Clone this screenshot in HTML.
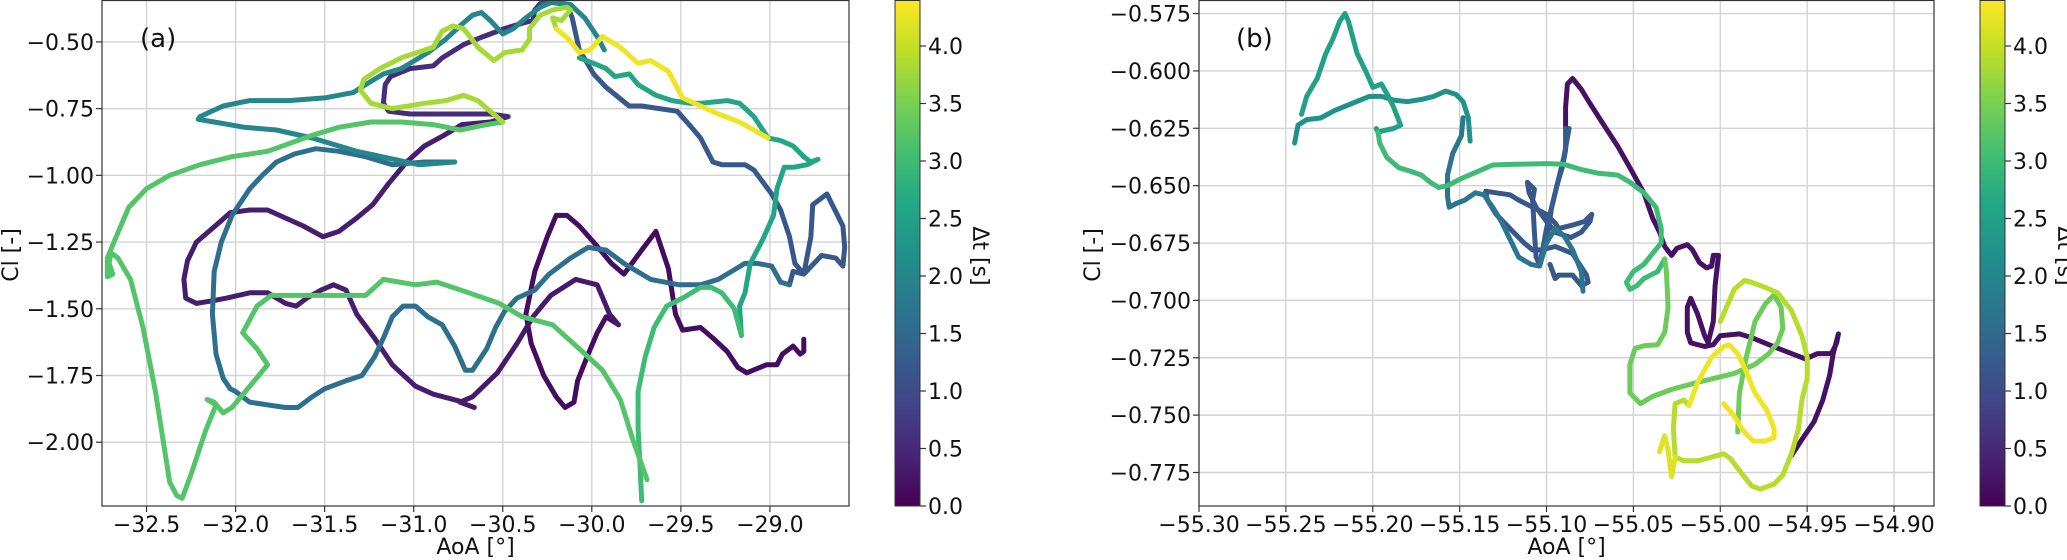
<!DOCTYPE html>
<html><head><meta charset="utf-8">
<style>
html,body{margin:0;padding:0;background:#fff;}
svg{display:block;font-family:"DejaVu Sans","Liberation Sans",sans-serif;}
</style></head>
<body>
<svg id="fig" width="2067" height="560" viewBox="0 0 2067 560" xmlns="http://www.w3.org/2000/svg">
<defs>
<linearGradient id="viridis" x1="0" y1="1" x2="0" y2="0">
<stop offset="0" stop-color="#440154"/><stop offset="0.1" stop-color="#482475"/>
<stop offset="0.2" stop-color="#414487"/><stop offset="0.3" stop-color="#355f8d"/>
<stop offset="0.4" stop-color="#2a788e"/><stop offset="0.5" stop-color="#21918c"/>
<stop offset="0.6" stop-color="#22a884"/><stop offset="0.7" stop-color="#44bf70"/>
<stop offset="0.8" stop-color="#7ad151"/><stop offset="0.9" stop-color="#bddf26"/>
<stop offset="1" stop-color="#fde725"/>
</linearGradient>
</defs>
<g id="layer"></g>
</svg>
<script>
// ---------- data: panel (a) ----------
const aTimes = [0.15,0.3,0.35,0.55,1.2,1.6,2.0,2.6,3.0,3.2,3.8,4.3];
const aAoa = [
[-28.81,-28.81,-28.83,-28.87,-28.93,-28.96,-29.02,-29.13,-29.18,-29.24,-29.32,-29.39,-29.49,-29.53,-29.57,-29.64,-29.72,-29.82,-29.89,-29.99,-30.07,-30.14,-30.20,-30.25,-30.32,-30.37,-30.34,-30.27,-30.20,-30.15,-30.10,-30.08,-30.02,-29.97,-29.92,-29.85],
[-29.85,-29.90,-29.97,-30.09,-30.23,-30.33,-30.42,-30.53,-30.67,-30.74,-30.66],
[-30.72,-30.89,-30.99,-31.12,-31.22,-31.32,-31.38,-31.45,-31.52,-31.60,-31.66,-31.72,-31.82,-31.92,-32.05,-32.13,-32.22,-32.28,-32.29,-32.27,-32.22,-32.15,-32.08,-32.03,-31.92,-31.82,-31.62,-31.51,-31.42,-31.32,-31.23,-31.14,-31.04,-30.94,-30.83,-30.73,-30.57,-30.47],
[-30.47,-30.57,-30.82,-31.02,-31.14,-31.17,-31.16,-31.13,-31.02,-30.89,-30.84,-30.72,-30.61,-30.49,-30.39,-30.33,-30.32,-30.28],
[-30.28,-30.25,-30.14,-30.11,-30.07,-29.99,-29.92,-29.79,-29.72,-29.62,-29.52,-29.44,-29.39,-29.32,-29.27,-29.14,-29.09,-28.99,-28.94,-28.89,-28.86,-28.81,-28.77,-28.76,-28.68,-28.59,-28.58,-28.59,-28.63,-28.71,-28.81,-28.87,-28.89],
[-28.89,-28.94,-28.99,-29.07,-29.14,-29.29,-29.39,-29.51,-29.67,-29.82,-29.92,-30.02,-30.12,-30.24,-30.32,-30.42,-30.49,-30.54,-30.59,-30.67,-30.71,-30.77,-30.84,-30.92,-30.99,-31.06,-31.12,-31.17,-31.22,-31.29,-31.38,-31.50,-31.57,-31.65,-31.72,-31.82,-31.92,-32.00,-32.03,-32.07,-32.11,-32.13,-32.12,-32.08,-32.02,-31.92,-31.85,-31.77,-31.67,-31.55,-31.42,-31.27,-31.12,-30.94,-30.77],
[-30.77,-30.97,-31.32,-31.57,-31.77,-31.95,-32.12,-32.21,-32.20,-32.07,-31.92,-31.70,-31.50,-31.34,-31.27,-31.17,-31.07,-30.92,-30.82,-30.74,-30.67,-30.62,-30.57,-30.50,-30.44,-30.37,-30.29,-30.22,-30.12,-30.04,-29.97,-29.93],
[-30.07,-29.99,-29.92,-29.87,-29.79,-29.74,-29.64,-29.55,-29.45,-29.39,-29.24,-29.17,-29.09,-29.01,-28.94,-28.87,-28.81,-28.77,-28.73,-28.79,-28.87,-28.92,-28.96,-28.98,-29.04,-29.11,-29.14,-29.17,-29.16],
[-29.16,-29.20,-29.27,-29.33,-29.39,-29.49,-29.58,-29.65,-29.70,-29.74,-29.74,-29.73,-29.72],
[-29.69,-29.77,-29.84,-29.94,-30.07,-30.22,-30.39,-30.52,-30.69,-30.87,-30.99,-31.17,-31.27,-31.42,-31.62,-31.80,-31.88,-31.96,-31.88,-31.82,-31.92,-32.02,-32.07,-32.12,-32.16,-32.11,-32.17,-32.25,-32.30,-32.33,-32.37,-32.45,-32.52,-32.59,-32.66,-32.70,-32.71,-32.69,-32.72,-32.72,-32.67,-32.60,-32.50,-32.37,-32.20,-32.02,-31.82,-31.57,-31.42,-31.24,-31.07,-30.89,-30.74,-30.59,-30.50],
[-30.50,-30.57,-30.64,-30.72,-30.82,-30.94,-31.12,-31.24,-31.30,-31.28,-31.19,-31.07,-30.89,-30.84,-30.78,-30.72,-30.64,-30.55,-30.49,-30.39,-30.35,-30.35,-30.29,-30.22,-30.14,-30.12,-30.17,-30.22,-30.20],
[-30.20,-30.13,-30.07,-30.01,-29.94,-29.84,-29.74,-29.67,-29.57,-29.49,-29.39,-29.29,-29.17,-29.01]
];
const aCl = [
[-1.614,-1.66,-1.67,-1.64,-1.67,-1.71,-1.71,-1.74,-1.72,-1.66,-1.61,-1.57,-1.58,-1.52,-1.35,-1.21,-1.28,-1.37,-1.33,-1.25,-1.19,-1.15,-1.15,-1.23,-1.36,-1.52,-1.63,-1.75,-1.83,-1.87,-1.85,-1.77,-1.67,-1.59,-1.53,-1.56],
[-1.56,-1.52,-1.41,-1.39,-1.45,-1.53,-1.63,-1.74,-1.83,-1.85,-1.87],
[-1.85,-1.82,-1.79,-1.71,-1.61,-1.52,-1.43,-1.41,-1.43,-1.46,-1.49,-1.48,-1.44,-1.44,-1.46,-1.47,-1.48,-1.46,-1.39,-1.32,-1.25,-1.21,-1.17,-1.14,-1.13,-1.13,-1.19,-1.23,-1.21,-1.16,-1.11,-1.03,-0.95,-0.89,-0.85,-0.81,-0.80,-0.78],
[-0.78,-0.77,-0.77,-0.77,-0.76,-0.73,-0.66,-0.63,-0.60,-0.59,-0.56,-0.51,-0.48,-0.45,-0.43,-0.42,-0.38,-0.35],
[-0.35,-0.35,-0.36,-0.41,-0.53,-0.62,-0.67,-0.74,-0.74,-0.75,-0.76,-0.82,-0.86,-0.95,-0.96,-0.96,-0.98,-1.07,-1.13,-1.23,-1.33,-1.37,-1.23,-1.11,-1.07,-1.19,-1.27,-1.34,-1.31,-1.30,-1.37,-1.36,-1.41],
[-1.41,-1.40,-1.34,-1.33,-1.33,-1.39,-1.41,-1.41,-1.39,-1.33,-1.28,-1.27,-1.31,-1.37,-1.43,-1.46,-1.51,-1.57,-1.65,-1.73,-1.73,-1.64,-1.56,-1.53,-1.49,-1.49,-1.53,-1.61,-1.68,-1.75,-1.77,-1.80,-1.83,-1.87,-1.87,-1.86,-1.85,-1.81,-1.80,-1.76,-1.67,-1.52,-1.36,-1.25,-1.15,-1.05,-1.00,-0.95,-0.92,-0.90,-0.91,-0.93,-0.96,-0.95,-0.95],
[-0.95,-0.96,-0.91,-0.86,-0.83,-0.82,-0.80,-0.79,-0.78,-0.74,-0.72,-0.72,-0.71,-0.69,-0.66,-0.62,-0.60,-0.54,-0.49,-0.44,-0.40,-0.39,-0.42,-0.47,-0.45,-0.41,-0.37,-0.35,-0.36,-0.41,-0.48,-0.53],
[-0.56,-0.58,-0.60,-0.63,-0.62,-0.66,-0.70,-0.72,-0.73,-0.73,-0.72,-0.73,-0.78,-0.86,-0.87,-0.89,-0.93,-0.95,-0.94,-0.96,-0.97,-0.97,-1.05,-1.15,-1.24,-1.33,-1.44,-1.49,-1.60],
[-1.60,-1.50,-1.44,-1.42,-1.42,-1.46,-1.49,-1.57,-1.68,-1.81,-1.95,-2.08,-2.22],
[-2.14,-1.99,-1.84,-1.73,-1.65,-1.56,-1.53,-1.48,-1.44,-1.40,-1.41,-1.39,-1.45,-1.45,-1.45,-1.45,-1.49,-1.59,-1.65,-1.71,-1.79,-1.87,-1.89,-1.85,-1.84,-1.86,-1.96,-2.12,-2.21,-2.20,-2.15,-1.81,-1.57,-1.39,-1.31,-1.29,-1.33,-1.37,-1.38,-1.31,-1.23,-1.12,-1.05,-1.00,-0.96,-0.93,-0.91,-0.85,-0.82,-0.80,-0.80,-0.81,-0.83,-0.81,-0.80],
[-0.80,-0.76,-0.72,-0.70,-0.72,-0.73,-0.75,-0.73,-0.68,-0.64,-0.60,-0.56,-0.52,-0.46,-0.44,-0.45,-0.52,-0.57,-0.54,-0.53,-0.49,-0.45,-0.40,-0.38,-0.37,-0.38,-0.42,-0.41,-0.45],
[-0.45,-0.49,-0.54,-0.53,-0.48,-0.52,-0.58,-0.57,-0.61,-0.71,-0.74,-0.77,-0.80,-0.86]
];
// ---------- data: panel (b) ----------
const bTimes = [0.2,1.2,1.3,1.7,2.2,2.5,3.0,3.4,3.9,4.3,4.2];
const bAoa = [
[-54.959,-54.953,-54.946,-54.941,-54.937,-54.935,-54.932,-54.933,-54.936,-54.944,-54.951,-54.959,-54.972,-54.982,-54.989,-55.000,-55.004,-55.009,-55.017,-55.019,-55.019,-55.017,-55.013,-55.009,-55.007,-55.004,-55.003,-55.001,-55.004,-55.005,-55.008,-55.012,-55.016,-55.019,-55.025,-55.028,-55.032,-55.035,-55.039,-55.044,-55.052,-55.059,-55.067,-55.075,-55.080,-55.085,-55.088,-55.089,-55.089],
[-55.089,-55.089,-55.091,-55.094,-55.097,-55.099,-55.102,-55.104,-55.106,-55.107,-55.108,-55.107,-55.111,-55.110,-55.106,-55.100,-55.095,-55.086,-55.080,-55.075,-55.074,-55.078,-55.085,-55.093,-55.095,-55.100,-55.108,-55.116,-55.121,-55.129,-55.135,-55.134,-55.129,-55.121,-55.113,-55.108,-55.103,-55.095,-55.090,-55.085,-55.081,-55.077,-55.076,-55.080,-55.085,-55.093,-55.095,-55.098],
[-55.104,-55.100,-55.095,-55.090,-55.087],
[-55.079,-55.080,-55.085,-55.090,-55.095,-55.100,-55.104,-55.109,-55.116,-55.121,-55.126,-55.131,-55.136,-55.141,-55.147,-55.152,-55.156,-55.157,-55.157,-55.154,-55.149,-55.148],
[-55.144,-55.145,-55.148,-55.152,-55.158,-55.165,-55.172,-55.180,-55.188,-55.195,-55.202,-55.212,-55.222,-55.230,-55.238,-55.243,-55.245],
[-55.241,-55.238,-55.232,-55.227,-55.223,-55.219,-55.216,-55.214,-55.209,-55.203,-55.200,-55.195,-55.191,-55.188,-55.184,-55.188,-55.193,-55.197,-55.198],
[-55.197,-55.196,-55.192,-55.185,-55.178,-55.172,-55.167,-55.162,-55.157,-55.149,-55.142,-55.131,-55.118,-55.100,-55.090,-55.080,-55.070,-55.059,-55.052,-55.044,-55.037,-55.034,-55.034,-55.039,-55.044,-55.050,-55.054,-55.052,-55.048,-55.044,-55.036,-55.032],
[-55.032,-55.031,-55.030,-55.032,-55.036,-55.044,-55.049,-55.052,-55.052,-55.046,-55.039,-55.028,-55.013,-54.992,-54.980,-54.972,-54.967,-54.964,-54.965,-54.969,-54.974,-54.980,-54.985,-54.989,-54.990],
[-55.000,-54.992,-54.986,-54.982,-54.974,-54.967,-54.959,-54.953,-54.950,-54.950,-54.953,-54.955,-54.959,-54.964,-54.969,-54.977,-54.982,-54.987,-54.994,-54.998,-55.005,-55.013,-55.021,-55.026,-55.027,-55.026,-55.021,-55.018],
[-55.018,-55.013,-55.005,-54.998,-54.995,-54.990,-54.985,-54.980,-54.973,-54.969,-54.969,-54.974,-54.981,-54.987,-54.992,-54.998],
[-55.035,-55.032,-55.030,-55.028,-55.026]
];
const bCl = [
[-0.7676,-0.7606,-0.7528,-0.7434,-0.7325,-0.7232,-0.7146,-0.7185,-0.7232,-0.7232,-0.7255,-0.7232,-0.7193,-0.7162,-0.7146,-0.7154,-0.7193,-0.7201,-0.7185,-0.7139,-0.7030,-0.6991,-0.7061,-0.7154,-0.7185,-0.7092,-0.6936,-0.6804,-0.6804,-0.6851,-0.6858,-0.6835,-0.6780,-0.6757,-0.6773,-0.6804,-0.6765,-0.6703,-0.6640,-0.6531,-0.6422,-0.6329,-0.6236,-0.6142,-0.6080,-0.6033,-0.6057,-0.6158,-0.6251],
[-0.6251,-0.6345,-0.6422,-0.6500,-0.6594,-0.6687,-0.6780,-0.6843,-0.6812,-0.6703,-0.6563,-0.6516,-0.6485,-0.6531,-0.6594,-0.6656,-0.6703,-0.6726,-0.6703,-0.6656,-0.6625,-0.6656,-0.6672,-0.6687,-0.6663,-0.6625,-0.6594,-0.6563,-0.6540,-0.6531,-0.6524,-0.6563,-0.6625,-0.6687,-0.6749,-0.6780,-0.6780,-0.6765,-0.6780,-0.6796,-0.6843,-0.6890,-0.6921,-0.6936,-0.6890,-0.6890,-0.6905,-0.6843],
[-0.6850,-0.6687,-0.6531,-0.6376,-0.6251],
[-0.6960,-0.6874,-0.6780,-0.6718,-0.6687,-0.6749,-0.6850,-0.6843,-0.6812,-0.6734,-0.6656,-0.6594,-0.6540,-0.6531,-0.6563,-0.6578,-0.6594,-0.6547,-0.6454,-0.6360,-0.6282,-0.6204],
[-0.6306,-0.6204,-0.6134,-0.6103,-0.6088,-0.6111,-0.6124,-0.6134,-0.6127,-0.6111,-0.6111,-0.6142,-0.6173,-0.6205,-0.6212,-0.6236,-0.6314],
[-0.6189,-0.6111,-0.6033,-0.5924,-0.5862,-0.5784,-0.5750,-0.5784,-0.5924,-0.6018,-0.6072,-0.6057,-0.6111,-0.6158,-0.6236,-0.6251,-0.6259,-0.6267,-0.6251],
[-0.6267,-0.6314,-0.6376,-0.6422,-0.6438,-0.6454,-0.6485,-0.6508,-0.6500,-0.6469,-0.6446,-0.6410,-0.6407,-0.6404,-0.6407,-0.6430,-0.6446,-0.6454,-0.6485,-0.6531,-0.6594,-0.6687,-0.6749,-0.6796,-0.6843,-0.6874,-0.6921,-0.6952,-0.6936,-0.6905,-0.6874,-0.6819],
[-0.6819,-0.6874,-0.7030,-0.7139,-0.7193,-0.7198,-0.7209,-0.7279,-0.7403,-0.7450,-0.7419,-0.7388,-0.7357,-0.7318,-0.7279,-0.7232,-0.7185,-0.7123,-0.7030,-0.6975,-0.7014,-0.7092,-0.7247,-0.7403,-0.7574],
[-0.7092,-0.6952,-0.6913,-0.6921,-0.6944,-0.6967,-0.7045,-0.7154,-0.7248,-0.7341,-0.7434,-0.7559,-0.7668,-0.7761,-0.7800,-0.7823,-0.7808,-0.7761,-0.7691,-0.7668,-0.7683,-0.7699,-0.7699,-0.7683,-0.7559,-0.7450,-0.7434,-0.7458],
[-0.7458,-0.7357,-0.7248,-0.7201,-0.7193,-0.7232,-0.7310,-0.7403,-0.7481,-0.7559,-0.7598,-0.7613,-0.7613,-0.7567,-0.7504,-0.7450],
[-0.7660,-0.7590,-0.7652,-0.7769,-0.7683]
];
const aXTicks = [-32.5,-32.0,-31.5,-31.0,-30.5,-30.0,-29.5,-29.0];
const aYTicks = [-0.50,-0.75,-1.00,-1.25,-1.50,-1.75,-2.00];
const bXTicks = [-55.30,-55.25,-55.20,-55.15,-55.10,-55.05,-55.00,-54.95,-54.90];
const bYTicks = [-0.575,-0.600,-0.625,-0.650,-0.675,-0.700,-0.725,-0.750,-0.775];
const cbTicks = [0.0,0.5,1.0,1.5,2.0,2.5,3.0,3.5,4.0];
const tMax = 4.4;

const NS = "http://www.w3.org/2000/svg";
const root = document.getElementById('layer');
function mk(tag, attrs, parent){ const e=document.createElementNS(NS,tag); for(const k in attrs) e.setAttribute(k,attrs[k]); (parent||root).appendChild(e); return e; }
const VIR = [[68,1,84],[72,36,117],[65,68,135],[53,95,141],[42,120,142],[33,145,140],[34,168,132],[68,191,112],[122,209,81],[189,223,38],[253,231,37]];
function viridis(f){ f=Math.max(0,Math.min(1,f))*10; const i=Math.min(9,Math.floor(f)), r=f-i; const a=VIR[i], b=VIR[i+1]; return `rgb(${a.map((v,k)=>Math.round(v+(b[k]-v)*r)).join(',')})`; }
const minus = s => s.replace('-', '\u2212');

function panel(cfg){
  const {L,R,T,B,xmin,xmax,ymin,ymax,xt,yt,xdec,ydec,aoa,cl,times,name,label,labX,cbX} = cfg;
  const X = v => L + (v - xmin)/(xmax - xmin)*(R - L);
  const Y = v => B - (v - ymin)/(ymax - ymin)*(B - T);
  const g = mk('g', {});
  
  
  const clipId = name + '-clip';
  const cp = mk('clipPath', {id: clipId}, g); mk('rect', {x:L, y:T, width:R-L, height:B-T}, cp);
  xt.forEach(v => {
    const gl = mk('line', {x1:X(v), x2:X(v), y1:T, y2:B, stroke:'#d3d3d3', 'stroke-width':1.4}, g);
    
    
    mk('line', {x1:X(v), x2:X(v), y1:B, y2:B+6, stroke:'#333', 'stroke-width':1.2}, g);
    const t = mk('text', {x:X(v), y:B+26, 'text-anchor':'middle', 'font-size':22, fill:'#111'}, g);
    t.textContent = minus(v.toFixed(xdec));
    
    
  });
  yt.forEach(v => {
    const gl = mk('line', {x1:L, x2:R, y1:Y(v), y2:Y(v), stroke:'#d3d3d3', 'stroke-width':1.4}, g);
    
    
    mk('line', {x1:L-6, x2:L, y1:Y(v), y2:Y(v), stroke:'#333', 'stroke-width':1.2}, g);
    const t = mk('text', {x:L-8, y:Y(v)+8, 'text-anchor':'end', 'font-size':22, fill:'#111'}, g);
    t.textContent = minus(v.toFixed(ydec));
    
    
  });
  const lines = mk('g', {'clip-path':`url(#${clipId})`, fill:'none', 'stroke-width':5, 'stroke-linecap':'round', 'stroke-linejoin':'round'}, g);
  aoa.forEach((xs, i) => {
    const col = viridis(times[i]/tMax);
    const d = xs.map((x, j) => (j ? 'L' : 'M') + X(x).toFixed(1) + ',' + Y(cl[i][j]).toFixed(1)).join(' ');
    const p = mk('path', {d, stroke: col}, lines);
    
    
  });
  const fr = mk('rect', {x:L, y:T+0.5, width:R-L, height:B-T-0.5, fill:'none', stroke:'#333', 'stroke-width':1.2}, g);
  
  
  const pl = mk('text', {x:labX, y:47, 'font-size':26, fill:'#111'}, g);
  pl.textContent = label;
  
  
  const xl = mk('text', {x:(L+R)/2, y:554, 'text-anchor':'middle', 'font-size':22, fill:'#111'}, g);
  xl.textContent = 'AoA [°]';
  
  
  const yx = cfg.ylabX;
  const yl = mk('text', {x:yx, y:255, 'text-anchor':'middle', 'font-size':22, fill:'#111', transform:`rotate(-90 ${yx} 255)`}, g);
  yl.textContent = 'Cl [-]';
  
  
  const cb = mk('g', {}, g);
  
  
  mk('rect', {x:cbX, y:T+0.5, width:25, height:B-T-0.5, fill:'url(#viridis)', stroke:'#333', 'stroke-width':1}, cb);
  const CY = v => B - v/tMax*(B - T);
  cbTicks.forEach(v => {
    mk('line', {x1:cbX+25, x2:cbX+31, y1:CY(v), y2:CY(v), stroke:'#333', 'stroke-width':1.2}, cb);
    const t = mk('text', {x:cbX+33, y:CY(v)+8, 'font-size':22, fill:'#111'}, cb);
    t.textContent = v.toFixed(1);
    
    
  });
  const cx = cbX + 78;
  const ct = mk('text', {x:cx, y:256, 'text-anchor':'middle', 'font-size':22, fill:'#111', transform:`rotate(90 ${cx} 256)`}, cb);
  ct.textContent = 'Δt [s]';
  
  
}

panel({name:'panel-a', L:102, R:849, T:0, B:506, xmin:-32.75, xmax:-28.556, ymin:-2.239, ymax:-0.343,
  xt:aXTicks, yt:aYTicks, xdec:1, ydec:2, aoa:aAoa, cl:aCl, times:aTimes, label:'(a)', labX:140, cbX:895, ylabX:18});
panel({name:'panel-b', L:1199, R:1934, T:0, B:506, xmin:-55.30, xmax:-54.877, ymin:-0.7896, ymax:-0.5691,
  xt:bXTicks, yt:bYTicks, xdec:2, ydec:3, aoa:bAoa, cl:bCl, times:bTimes, label:'(b)', labX:1236, cbX:1980, ylabX:1100});
</script>
</body></html>
